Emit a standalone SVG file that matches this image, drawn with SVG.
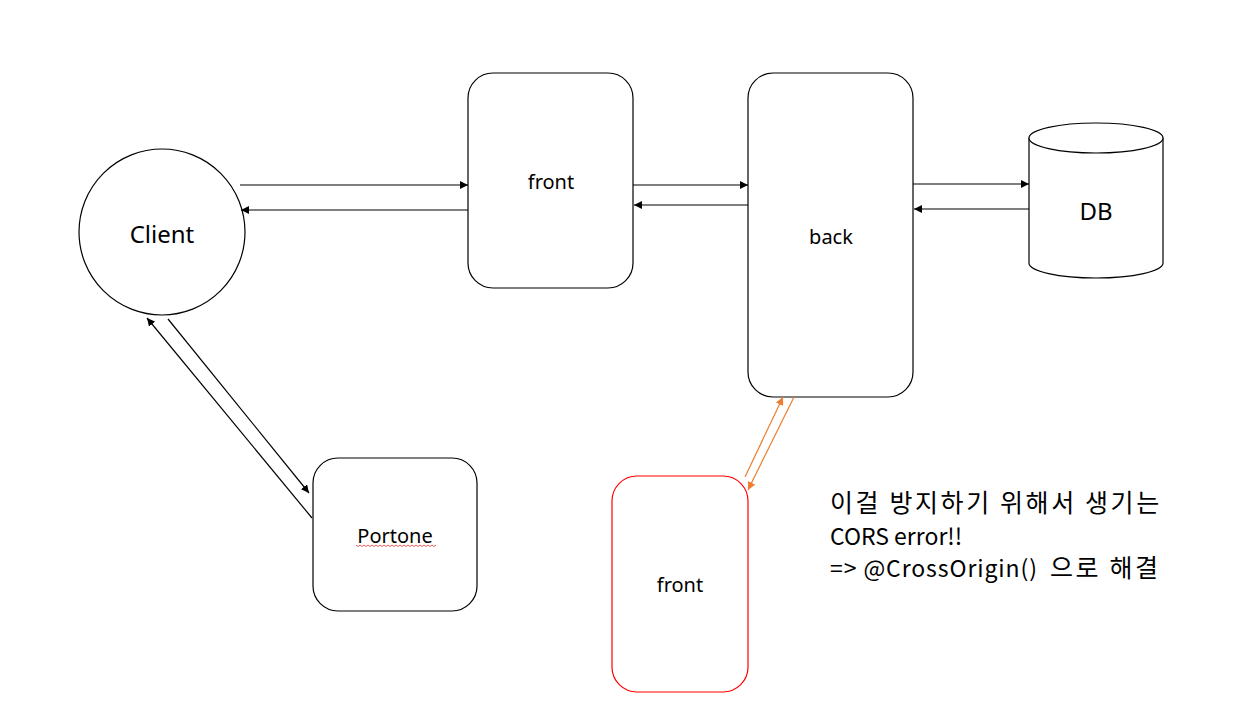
<svg xmlns="http://www.w3.org/2000/svg" width="1248" height="722" viewBox="0 0 1248 722">
<style>
.n{fill:#fff;stroke:#000;stroke-width:1.2}
.t{font-family:"Noto Sans","Noto Sans CJK KR",sans-serif;fill:#000;text-anchor:middle;dominant-baseline:central}
.c{stroke:#000;stroke-width:1.2;fill:none;marker-end:url(#ah)}
.o{stroke:#ED7D31;stroke-width:1.2;fill:none;marker-end:url(#ao)}
.k{font-size:25px;letter-spacing:2.6px}
</style>
<defs>
<marker id="ah" viewBox="0 0 10 10" refX="10" refY="5" markerWidth="8" markerHeight="8" markerUnits="userSpaceOnUse" orient="auto"><path d="M0,0L10,5L0,10z" fill="#000"/></marker>
<marker id="ao" viewBox="0 0 10 10" refX="10" refY="5" markerWidth="8" markerHeight="8" markerUnits="userSpaceOnUse" orient="auto"><path d="M0,0L10,5L0,10z" fill="#ED7D31"/></marker>
</defs>
<rect width="1248" height="722" fill="#fff"/>
<g id="client"><circle class="n" cx="162" cy="232" r="83"/><text class="t" x="162" y="233" font-size="24">Client</text></g>
<g id="front-top"><rect class="n" x="468" y="73" width="165" height="215" rx="25"/><text class="t" x="551" y="181" font-size="20">front</text></g>
<g id="back"><rect class="n" x="748" y="73" width="165" height="324" rx="25"/><text class="t" x="831" y="236" font-size="20">back</text></g>
<g id="db"><path class="n" d="M1029,138 A67,15 0 0 1 1163,138 L1163,263 A67,15 0 0 1 1029,263 Z"/><path class="n" fill="none" d="M1029,138 A67,15 0 0 0 1163,138"/><text class="t" x="1096" y="210" font-size="24">DB</text></g>
<g id="portone"><rect class="n" x="313" y="458" width="164" height="153" rx="25"/><text class="t" x="395" y="535" font-size="20">Portone</text><path d="M356,545 l2,1.5 2,-1.5 2,1.5 2,-1.5 2,1.5 2,-1.5 2,1.5 2,-1.5 2,1.5 2,-1.5 2,1.5 2,-1.5 2,1.5 2,-1.5 2,1.5 2,-1.5 2,1.5 2,-1.5 2,1.5 2,-1.5 2,1.5 2,-1.5 2,1.5 2,-1.5 2,1.5 2,-1.5 2,1.5 2,-1.5 2,1.5 2,-1.5 2,1.5 2,-1.5 2,1.5 2,-1.5 2,1.5 2,-1.5 2,1.5 2,-1.5 2,1.5 2,-1.5" stroke="#E03030" stroke-width="0.8" fill="none"/></g>
<g id="front-bottom"><rect class="n" x="612" y="476" width="136" height="216" rx="25" style="stroke:#FF0000"/><text class="t" x="680" y="584" font-size="20">front</text></g>
<g id="note"><text font-family="'Noto Sans CJK KR','Noto Sans',sans-serif" font-size="23" fill="#000"><tspan class="k" x="830" y="512">이걸 방지하기 위해서 생기는</tspan><tspan x="830" y="545">CORS error!!</tspan><tspan x="830" y="577" textLength="207" lengthAdjust="spacing">=&gt; @CrossOrigin()</tspan><tspan class="k" x="1050" y="577">으로 해결</tspan></text></g>
<g id="connectors">
<line class="c" x1="240" y1="185" x2="468" y2="185"/>
<line class="c" x1="468" y1="210" x2="241" y2="210"/>
<line class="c" x1="633" y1="185" x2="748" y2="185"/>
<line class="c" x1="748" y1="205" x2="634" y2="205"/>
<line class="c" x1="913" y1="184" x2="1029" y2="184"/>
<line class="c" x1="1029" y1="209" x2="914" y2="209"/>
<line class="c" x1="168" y1="319" x2="309" y2="493"/>
<line class="c" x1="312" y1="518" x2="147" y2="318"/>
<line class="o" x1="745" y1="477" x2="783" y2="397"/>
<line class="o" x1="794" y1="397" x2="748" y2="490"/>
</g>
</svg>
